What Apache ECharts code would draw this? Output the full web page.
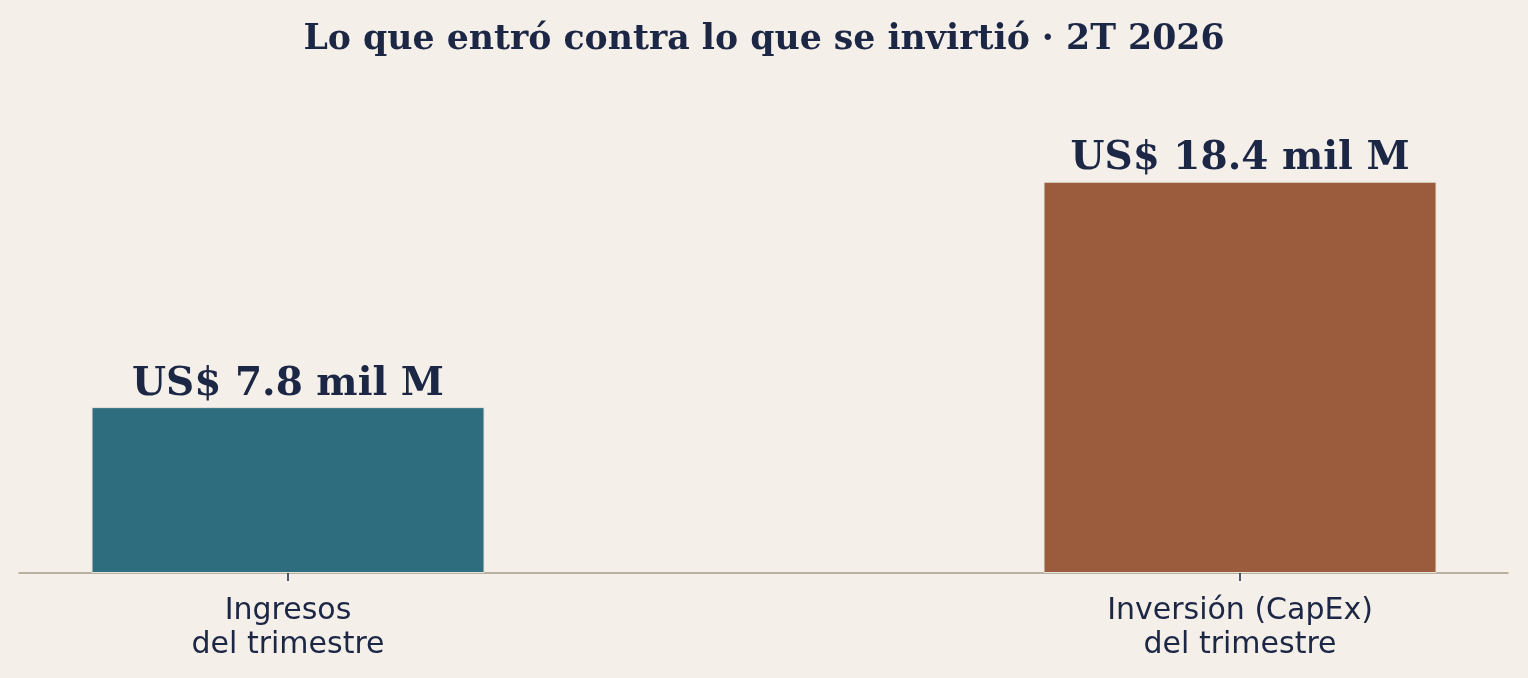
<!DOCTYPE html>
<html><head><meta charset="utf-8">
<script src="https://cdn.jsdelivr.net/npm/echarts@6/dist/echarts.min.js"></script>
<style>html,body{margin:0;padding:0;background:#f4f0e9;}#c{width:1528px;height:678px;}</style>
</head><body><div id="c"></div>
<script>
const categories = ['Ingresos\ndel trimestre', 'Inversión (CapEx)\ndel trimestre'];
const values = [7.8, 18.4];
const barColors = ['#2e6d7e', '#9a5c3c'];
const positions = [0, 1];

const chart = echarts.init(document.getElementById('c'), null, {renderer: 'canvas'});
chart.setOption({
  backgroundColor: '#f4f0e9',
  animation: false,
  title: {
    text: 'Lo que entró contra lo que se invirtió · 2T 2026',
    left: 'center', top: 17,
    textStyle: {fontFamily: 'DejaVu Serif', fontWeight: 'bold', fontSize: 34.7, color: '#1c2645'}
  },
  grid: {left: 19, right: 20, top: 86, bottom: 105},
  xAxis: {
    type: 'value', min: -0.2826, max: 1.2815,
    splitLine: {show: false},
    axisLine: {show: true, onZero: false, lineStyle: {color: '#a59c88', width: 1.5}},
    axisTick: {show: true, customValues: positions, length: 8, lineStyle: {color: '#1c2645', width: 1.5}},
    axisLabel: {
      customValues: positions, margin: 21,
      formatter: v => categories[Math.round(v)] || '',
      fontFamily: 'DejaVu Sans', fontSize: 30, lineHeight: 34, color: '#1c2645'
    }
  },
  yAxis: {type: 'value', min: 0, max: 22.9, show: false, splitLine: {show: false}},
  series: [{
    type: 'bar',
    barWidth: 393,
    data: values.map((v, i) => ({value: [positions[i], v], itemStyle: {color: barColors[i]}})),
    itemStyle: {borderColor: '#e8e4dc', borderWidth: 1},
    label: {
      show: true, position: 'top', distance: 3,
      formatter: p => 'US$ ' + p.value[1].toFixed(1) + ' mil M',
      fontFamily: 'DejaVu Serif', fontWeight: 'bold', fontSize: 39, color: '#1c2645'
    }
  }]
});
</script></body></html>
